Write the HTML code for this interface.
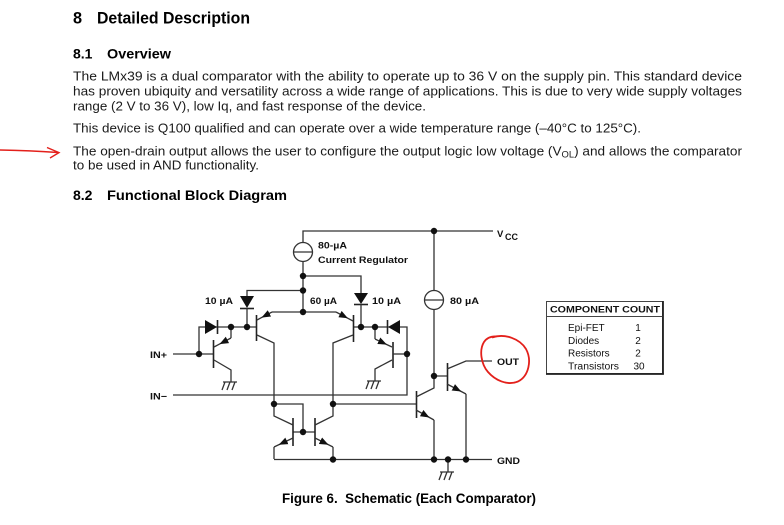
<!DOCTYPE html>
<html>
<head>
<meta charset="utf-8">
<style>
  html,body{margin:0;padding:0;background:#fff;}
  svg{display:block;}
  .h{font-family:"Liberation Sans",Arial,sans-serif;font-weight:bold;fill:#000;}
  .b{font-family:"Liberation Sans",Arial,sans-serif;fill:#1a1a1a;font-size:13px;}
  .l{font-family:"Liberation Sans",Arial,sans-serif;font-weight:bold;fill:#111;font-size:9.5px;}
  .w{stroke:#333;stroke-width:1.3;fill:none;}
  .bar{stroke:#222;stroke-width:1.6;fill:none;}
  .n{fill:#111;}
</style>
</head>
<body>
<svg width="784" height="525" viewBox="0 0 784 525" xmlns="http://www.w3.org/2000/svg">
  <defs>
    <marker id="ar" viewBox="0 0 10 8" refX="10" refY="4" markerWidth="9" markerHeight="7.5" markerUnits="userSpaceOnUse" orient="auto">
      <path d="M0,0 L10,4 L0,8 z" fill="#111"/>
    </marker>
  </defs>

  <!-- Headings -->
  <text class="h" x="73" y="23.3" font-size="16.3">8</text>
  <text class="h" x="97" y="23.3" font-size="16.3" textLength="153" lengthAdjust="spacingAndGlyphs">Detailed Description</text>
  <text class="h" x="73" y="58.3" font-size="14">8.1</text>
  <text class="h" x="107" y="58.3" font-size="14" textLength="64" lengthAdjust="spacingAndGlyphs">Overview</text>

  <!-- Body text -->
  <text class="b" x="73" y="80.6" textLength="669" lengthAdjust="spacingAndGlyphs">The LMx39 is a dual comparator with the ability to operate up to 36 V on the supply pin. This standard device</text>
  <text class="b" x="73" y="95.5" textLength="669" lengthAdjust="spacingAndGlyphs">has proven ubiquity and versatility across a wide range of applications. This is due to very wide supply voltages</text>
  <text class="b" x="73" y="110.5" textLength="353" lengthAdjust="spacingAndGlyphs">range (2 V to 36 V), low Iq, and fast response of the device.</text>
  <text class="b" x="73" y="132.4" textLength="568" lengthAdjust="spacingAndGlyphs">This device is Q100 qualified and can operate over a wide temperature range (–40°C to 125°C).</text>
  <text class="b" x="73" y="155.6" textLength="669" lengthAdjust="spacingAndGlyphs">The open-drain output allows the user to configure the output logic low voltage (V<tspan font-size="9" dy="2">OL</tspan><tspan dy="-2">) and allows the comparator</tspan></text>
  <text class="b" x="73" y="169.3" textLength="186" lengthAdjust="spacingAndGlyphs">to be used in AND functionality.</text>

  <text class="h" x="73" y="200" font-size="14">8.2</text>
  <text class="h" x="107" y="200" font-size="14" textLength="180" lengthAdjust="spacingAndGlyphs">Functional Block Diagram</text>

  <!-- Red arrow -->
  <path d="M0,150 Q30,150.5 58,152.5" stroke="#e3201b" stroke-width="1.4" fill="none"/>
  <path d="M47,147.5 L59,152.6 L50,158" stroke="#e3201b" stroke-width="1.4" fill="none"/>

  <!-- ============ Schematic ============ -->
  <!-- Vcc rail and regulator -->
  <path class="w" d="M303,242.5 L303,231 L493,231"/>
  <circle cx="303" cy="252" r="9.5" fill="#fff" stroke="#333" stroke-width="1.3"/>
  <line class="w" x1="293.5" y1="252" x2="312.5" y2="252"/>
  <path class="w" d="M303,261.5 L303,312"/>

  <!-- feed to right diode -->
  <path class="w" d="M303,276 L361,276 L361,294"/>
  <!-- feed to left diode -->
  <path class="w" d="M303,290.5 L247,290.5 L247,296"/>

  <!-- left 10uA diode (down) -->
  <path d="M240,296 L254,296 L247,308 z" fill="#111"/>
  <line class="bar" x1="240" y1="308.5" x2="254" y2="308.5"/>
  <line class="w" x1="247" y1="308" x2="247" y2="327"/>
  <!-- right 10uA diode (down) -->
  <path d="M354,293 L368,293 L361,304 z" fill="#111"/>
  <line class="bar" x1="354" y1="304.5" x2="368" y2="304.5"/>
  <line class="w" x1="361" y1="304" x2="361" y2="327"/>

  <!-- left input diode (right-pointing) and line -->
  <path class="w" d="M199,354 L199,327 L256,327"/>
  <path d="M205,320 L205,334 L217,327 z" fill="#111"/>
  <line class="bar" x1="217.5" y1="320" x2="217.5" y2="334"/>

  <!-- right input diode (left-pointing) -->
  <path class="w" d="M353,327 L407,327 L407,395 L173,395"/>
  <path d="M400,320 L400,334 L388,327 z" fill="#fff"/>
  <path d="M400,320 L400,334 L388,327 z" fill="#111"/>
  <line class="bar" x1="387.5" y1="320" x2="387.5" y2="334"/>

  <!-- IN+ -->
  <line class="w" x1="173" y1="354" x2="213" y2="354"/>
  <!-- Q1 (left input PNP) -->
  <line class="bar" x1="213.5" y1="340" x2="213.5" y2="368"/>
  <path class="w" d="M231,327 L231,338"/>
  <path class="w" d="M231,338 L219.5,344.1 L214,347" marker-mid="url(#ar)"/>
  <path class="w" d="M214,360 L231,370 L231,382"/>
  <!-- ground Q1 -->
  <path class="w" d="M223,382 L237,382 M225,382 L222,390 M230,382 L227,390 M235,382 L232,390"/>

  <!-- Q2 (left diff PNP) -->
  <line class="bar" x1="256.5" y1="315" x2="256.5" y2="341"/>
  <path class="w" d="M304,312 L272,312"/>
  <path class="w" d="M272,312 L261.5,317.6 L257,320" marker-mid="url(#ar)"/>
  <path class="w" d="M257,335 L274,343 L274,404"/>

  <!-- Q3 (right diff PNP) -->
  <line class="bar" x1="353.5" y1="315" x2="353.5" y2="342"/>
  <path class="w" d="M304,312 L336,312"/>
  <path class="w" d="M336,312 L347.9,318.3 L353,321" marker-mid="url(#ar)"/>
  <path class="w" d="M353,335 L333,343 L333,404"/>

  <!-- Q4 (right input PNP) -->
  <line class="bar" x1="393" y1="342" x2="393" y2="368"/>
  <line class="w" x1="393" y1="354" x2="407" y2="354"/>
  <path class="w" d="M375,327 L375,339"/>
  <path class="w" d="M375,339 L386.9,344.6 L392,347" marker-mid="url(#ar)"/>
  <path class="w" d="M392,360 L375,369 L375,381"/>
  <path class="w" d="M367,381 L381,381 M369,381 L366,389 M374,381 L371,389 M379,381 L376,389"/>

  <!-- current mirror -->
  <path class="w" d="M274,404 L303,404 L303,432"/>
  <line class="w" x1="293" y1="432" x2="315" y2="432"/>
  <line class="bar" x1="293" y1="418" x2="293" y2="446"/>
  <line class="bar" x1="315" y1="418" x2="315" y2="446"/>
  <path class="w" d="M274,404 L274,416 L293,425"/>
  <path class="w" d="M293,438 L278.75,444.75 L274,447" marker-mid="url(#ar)"/>
  <path class="w" d="M274,447 L274,459"/>
  <path class="w" d="M315,425 L333,416 L333,404"/>
  <path class="w" d="M315,438 L328.5,444.75 L333,447" marker-mid="url(#ar)"/>
  <path class="w" d="M333,447 L333,459"/>

  <!-- GND rail -->
  <line class="w" x1="274" y1="459.5" x2="492" y2="459.5"/>
  <path class="w" d="M448,459 L448,472"/>
  <path class="w" d="M440,472 L454,472 M442,472 L439,480 M447,472 L444,480 M452,472 L449,480"/>

  <!-- Q5 driver -->
  <line class="w" x1="333" y1="404" x2="416" y2="404"/>
  <line class="bar" x1="416.5" y1="391" x2="416.5" y2="418"/>
  <path class="w" d="M416,397 L434,388 L434,376"/>
  <path class="w" d="M416,410 L429.5,417.5 L434,420" marker-mid="url(#ar)"/>
  <path class="w" d="M434,420 L434,459"/>

  <!-- 80uA source -->
  <path class="w" d="M434,231 L434,290.5"/>
  <circle cx="434" cy="300" r="9.5" fill="#fff" stroke="#333" stroke-width="1.3"/>
  <line class="w" x1="424.5" y1="300" x2="443.5" y2="300"/>
  <path class="w" d="M434,309.5 L434,376 L447,376"/>

  <!-- Output transistor -->
  <line class="bar" x1="447.5" y1="363" x2="447.5" y2="391"/>
  <path class="w" d="M447,369 L466,361 L492,361"/>
  <path class="w" d="M447,384 L461.25,391.5 L466,394" marker-mid="url(#ar)"/>
  <path class="w" d="M466,394 L466,459"/>

  <!-- Nodes -->
  <g class="n">
    <circle cx="434" cy="231" r="3.2"/>
    <circle cx="303" cy="276" r="3.2"/>
    <circle cx="303" cy="290.5" r="3.2"/>
    <circle cx="303" cy="312" r="3.2"/>
    <circle cx="247" cy="327" r="3.2"/>
    <circle cx="231" cy="327" r="3.2"/>
    <circle cx="199" cy="354" r="3.2"/>
    <circle cx="361" cy="327" r="3.2"/>
    <circle cx="375" cy="327" r="3.2"/>
    <circle cx="407" cy="354" r="3.2"/>
    <circle cx="274" cy="404" r="3.2"/>
    <circle cx="333" cy="404" r="3.2"/>
    <circle cx="303" cy="432" r="3.2"/>
    <circle cx="434" cy="376" r="3.2"/>
    <circle cx="333" cy="459.5" r="3.2"/>
    <circle cx="434" cy="459.5" r="3.2"/>
    <circle cx="448" cy="459.5" r="3.2"/>
    <circle cx="466" cy="459.5" r="3.2"/>
  </g>

  <!-- Labels -->
  <text class="l" x="318" y="248.5" textLength="29" lengthAdjust="spacingAndGlyphs">80-µA</text>
  <text class="l" x="318" y="263" textLength="90" lengthAdjust="spacingAndGlyphs">Current Regulator</text>
  <text class="l" x="205" y="304" textLength="28" lengthAdjust="spacingAndGlyphs">10 µA</text>
  <text class="l" x="310" y="304" textLength="27" lengthAdjust="spacingAndGlyphs">60 µA</text>
  <text class="l" x="372" y="304" textLength="29" lengthAdjust="spacingAndGlyphs">10 µA</text>
  <text class="l" x="450" y="304" textLength="29" lengthAdjust="spacingAndGlyphs">80 µA</text>
  <text class="l" x="497" y="237" font-size="10.5">V</text>
  <text class="l" x="505" y="240" font-size="8.5" textLength="13" lengthAdjust="spacingAndGlyphs">CC</text>
  <text class="l" x="150" y="358" textLength="17" lengthAdjust="spacingAndGlyphs">IN+</text>
  <text class="l" x="150" y="399.5" textLength="17" lengthAdjust="spacingAndGlyphs">IN−</text>
  <text class="l" x="497" y="365" font-size="10.5" textLength="22" lengthAdjust="spacingAndGlyphs">OUT</text>
  <text class="l" x="497" y="464" font-size="10.5" textLength="23" lengthAdjust="spacingAndGlyphs">GND</text>

  <!-- Red hand-drawn circle -->
  <path d="M492,337.5 C505,333 520,339 526,349 C532,360 529,376 518,381.5 C507,386 495,380 488,372 C481,364 479,350 484,342 C487,337.5 491,336 497,336.5" stroke="#e3201b" stroke-width="1.8" fill="none"/>

  <!-- Component count box -->
  <rect x="546.5" y="301.5" width="116" height="72" fill="#fff" stroke="#444" stroke-width="1"/>
  <line x1="663" y1="301" x2="663" y2="374.5" stroke="#222" stroke-width="1.8"/>
  <line x1="546" y1="374" x2="663.8" y2="374" stroke="#222" stroke-width="1.8"/>
  <line x1="546.5" y1="316.5" x2="662.5" y2="316.5" stroke="#444" stroke-width="1"/>
  <text class="l" x="550" y="312.5" font-size="10" textLength="110" lengthAdjust="spacingAndGlyphs">COMPONENT COUNT</text>
  <g font-family="Liberation Sans, Arial, sans-serif" font-size="10" fill="#111">
    <text x="568" y="331">Epi-FET</text>
    <text x="568" y="344">Diodes</text>
    <text x="568" y="356.5">Resistors</text>
    <text x="568" y="369.5" textLength="51" lengthAdjust="spacingAndGlyphs">Transistors</text>
    <text x="638" y="331" text-anchor="middle">1</text>
    <text x="638" y="344" text-anchor="middle">2</text>
    <text x="638" y="356.5" text-anchor="middle">2</text>
    <text x="639" y="369.5" text-anchor="middle">30</text>
  </g>

  <!-- Caption -->
  <text class="h" x="282" y="503" font-size="13.5" textLength="254" lengthAdjust="spacingAndGlyphs">Figure 6.&#160; Schematic (Each Comparator)</text>
</svg>
</body>
</html>
